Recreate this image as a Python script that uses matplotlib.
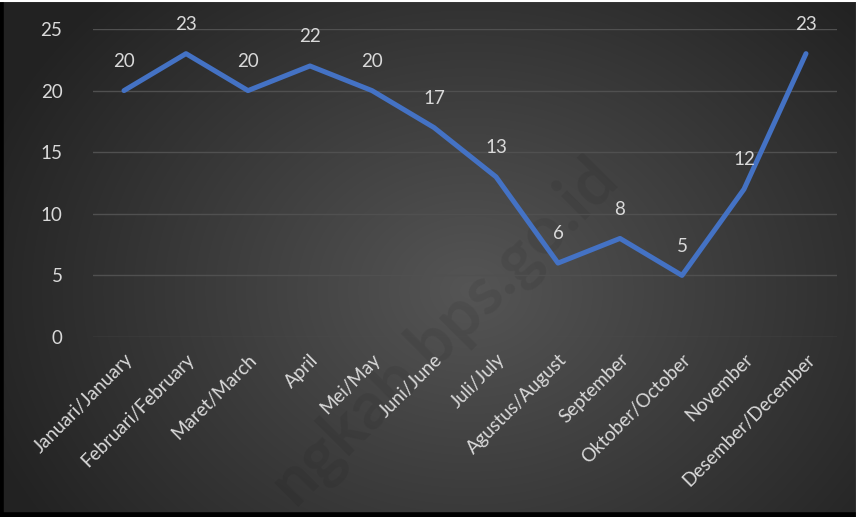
import numpy as np
import matplotlib
matplotlib.use("Agg")
import matplotlib.pyplot as plt

months = ["Januari/January", "Februari/February", "Maret/March", "April", "Mei/May",
          "Juni/June", "Juli/July", "Agustus/August", "September", "Oktober/October",
          "November", "Desember/December"]
values = [20, 23, 20, 22, 20, 17, 13, 6, 8, 5, 12, 23]
yticks = [0, 5, 10, 15, 20, 25]

plt.rcParams['font.family'] = ['Lato', 'DejaVu Sans']

W, H = 858, 517
fig = plt.figure(figsize=(W / 100, H / 100), dpi=100)

# radial gradient background
bg = fig.add_axes([0, 0, 1, 1], zorder=0)
yy, xx = np.mgrid[0:H, 0:W]
cx, cy = 470, 290
r = np.sqrt(((xx - cx) / 520.0) ** 2 + ((yy - cy) / 420.0) ** 2)
r = np.clip(r, 0, 1)
inner = np.array([0x55, 0x55, 0x55]) / 255.0
outer = np.array([0x22, 0x22, 0x22]) / 255.0
img = inner[None, None, :] * (1 - r[..., None]) + outer[None, None, :] * r[..., None]
bg.imshow(img, extent=[0, W, H, 0], aspect='auto', interpolation='bilinear')
bg.set_xlim(0, W)
bg.set_ylim(H, 0)
bg.axis('off')
# frame edges
bg.plot([1, 1], [0, H], color='black', lw=4)
bg.plot([0, W], [H - 2, H - 2], color='black', lw=4)
bg.plot([0, W], [0.5, 0.5], color='white', lw=1.5)
bg.plot([W - 1, W - 1], [0, H], color='white', lw=1.5)
# watermark
bg.text(445, 330, "ngkab.bps.go.id", rotation=45, fontsize=48, fontweight='bold',
        color='black', alpha=0.07, ha='center', va='center')

ax = fig.add_axes([93 / W, 1 - 337 / H, (837 - 93) / W, (337 - 29) / H], zorder=1)
ax.patch.set_alpha(0)
x = np.arange(len(months))
ax.plot(x, values, color='#4472C4', lw=3.6, solid_capstyle='round', solid_joinstyle='round', zorder=3)
for xi, v in zip(x, values):
    ax.annotate(str(v), (xi, v), xytext=(0, 21), textcoords='offset points',
                ha='center', va='center', color='#D9D9D9', fontsize=13.5)

ax.set_xlim(-0.5, len(months) - 0.5)
ax.set_ylim(0, 25)
ax.set_yticks(yticks)
ax.set_yticklabels([str(t) for t in yticks], color='#D9D9D9', fontsize=13.5)
ax.set_xticks(x)
ax.set_xticklabels(months, rotation=45, ha='right', rotation_mode='anchor',
                   color='#D9D9D9', fontsize=13.5)
ax.tick_params(axis='both', length=0)
ax.tick_params(axis='y', pad=22)
ax.tick_params(axis='x', pad=10)
ax.grid(axis='y', color='#505050', lw=1)
ax.set_axisbelow(True)
for s in ax.spines.values():
    s.set_visible(False)

fig.savefig("out.png", dpi=100)
